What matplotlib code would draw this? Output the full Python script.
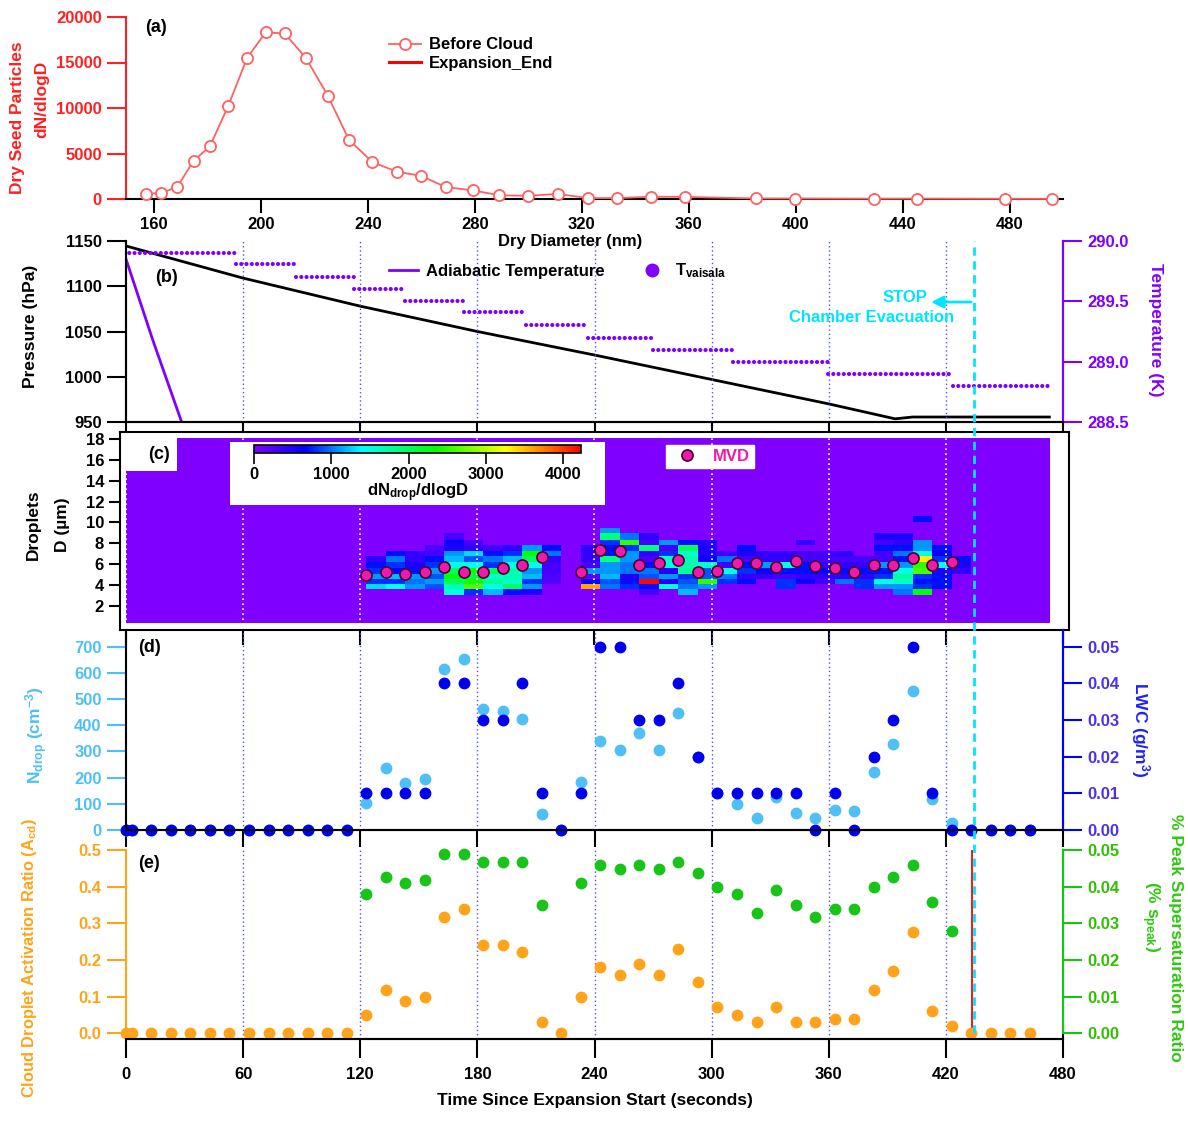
import numpy as np
import matplotlib
matplotlib.use('Agg')
import matplotlib.pyplot as plt
import matplotlib.transforms as mtransforms
from matplotlib.colors import LinearSegmentedColormap
from matplotlib.lines import Line2D
from matplotlib.patches import Rectangle
from matplotlib.ticker import FormatStrFormatter

plt.rcParams['font.family'] = ['Liberation Sans Narrow', 'Liberation Sans', 'DejaVu Sans']
plt.rcParams['font.weight'] = 'bold'
plt.rcParams['axes.labelweight'] = 'bold'
plt.rcParams['font.size'] = 12
plt.rcParams['mathtext.default'] = 'regular'
plt.rcParams['axes.linewidth'] = 1.5

# ---- (a) dry seed particle size distribution ----
diam = [156.9, 162.6, 168.6, 174.8, 180.9, 187.7, 194.8, 201.7, 208.8, 216.8,
        225.0, 232.9, 241.7, 250.8, 259.8, 269.2, 279.3, 289.2, 299.8, 311.0,
        322.4, 333.3, 346.0, 358.7, 385.2, 399.7, 429.4, 445.3, 478.4, 496.0]
before_cloud = [580, 650, 1300, 4200, 5800, 10200, 15500, 18300, 18200, 15500,
                11350, 6500, 4050, 3000, 2550, 1300, 950, 400, 360, 550,
                100, 100, 250, 230, 60, 50, 30, 40, 20, 10]
diam_exp = [322.4, 333.3, 346.0, 358.7, 385.2, 399.7, 429.4, 445.3, 478.4, 496.0]
expansion_end = [20, 20, 20, 20, 20, 20, 20, 20, 20, 20]

# ---- (b) pressure / temperature ----
press_t = [0, 60, 120, 180, 240, 300, 360, 394, 403, 473]
press = [1144.5, 1109, 1078, 1050, 1024, 997, 970, 953.5, 955.5, 955.5]
adiab_t = [0, 13.7, 28.5, 36]
adiab_T = [289.85, 289.18, 288.5, 288.17]
tv_start = [-1, 56.5, 87.3, 116.8, 142.9, 173.1, 205.1, 236.9, 269.8, 310.8, 359.4, 423.5]
tv_end = [56.5, 87.3, 116.8, 142.9, 173.1, 205.1, 236.9, 269.8, 310.8, 359.4, 424.3, 473.5]
tv_T = [289.90, 289.81, 289.705, 289.60, 289.50, 289.41, 289.30, 289.20, 289.10, 289.00, 288.90, 288.80]

# ---- (c) droplet size distribution ----
dsd_t = [123, 133, 143, 153, 163, 173, 183, 193, 203, 213, 223, 233, 243, 253, 263,
         273, 283, 293, 303, 313, 323, 333, 343, 353, 363, 373, 383, 393, 403, 413, 423, 433]
bin_edges = [3.1, 3.6, 4.1, 4.6, 5.1, 5.65, 6.2, 6.75, 7.25, 7.8, 8.35, 8.95, 9.5, 10.05, 10.6]
dsd = [
    [0, 1300, 800, 1100, 800, 700, 400, 0, 0, 0, 0, 0, 0, 0],
    [0, 1400, 800, 1200, 600, 800, 1000, 700, 0, 0, 0, 0, 0, 0],
    [0, 1100, 1000, 1100, 700, 500, 400, 400, 0, 0, 0, 0, 0, 0],
    [0, 900, 1100, 900, 1100, 800, 700, 300, 250, 0, 0, 0, 0, 0],
    [1500, 1700, 2000, 2300, 2000, 1500, 1200, 1100, 500, 600, 300, 0, 0, 0],
    [800, 2600, 2400, 2100, 2400, 1400, 900, 1300, 400, 300, 0, 0, 0, 0],
    [1200, 1500, 1800, 1600, 2000, 800, 1000, 700, 300, 0, 0, 0, 0, 0],
    [700, 2000, 1600, 1700, 1700, 1500, 1200, 800, 400, 0, 0, 0, 0, 0],
    [500, 1100, 800, 1200, 1100, 1500, 2000, 2300, 1100, 0, 0, 0, 0, 0],
    [0, 0, 250, 250, 300, 300, 400, 1000, 700, 0, 0, 0, 0, 0],
    [0, 0, 0, 0, 0, 0, 0, 0, 0, 0, 0, 0, 0, 0],
    [0, 3600, 600, 200, 1100, 300, 400, 400, 400, 0, 0, 0, 0, 0],
    [0, 1000, 900, 1200, 1100, 1100, 1900, 700, 700, 800, 1900, 1100, 0, 0],
    [0, 800, 700, 500, 1000, 1000, 1100, 1100, 800, 2500, 1000, 0, 0, 0],
    [300, 700, 4200, 900, 1000, 700, 300, 400, 1900, 300, 400, 0, 0, 0],
    [0, 1500, 500, 1100, 500, 1500, 1600, 800, 300, 1100, 0, 0, 0, 0],
    [1200, 1000, 900, 800, 1800, 1700, 1700, 1600, 2000, 700, 0, 0, 0, 0],
    [0, 1100, 2500, 900, 900, 1600, 600, 500, 500, 500, 0, 0, 0, 0],
    [0, 0, 800, 1000, 1500, 300, 1000, 300, 0, 0, 0, 0, 0, 0],
    [0, 0, 700, 400, 800, 700, 300, 500, 700, 0, 0, 0, 0, 0],
    [0, 0, 0, 400, 600, 1100, 400, 400, 0, 0, 0, 0, 0, 0],
    [0, 800, 800, 300, 700, 1500, 400, 400, 0, 0, 0, 0, 0, 0],
    [0, 0, 600, 400, 700, 700, 300, 300, 0, 400, 0, 0, 0, 0],
    [0, 0, 300, 400, 600, 400, 300, 300, 0, 0, 0, 0, 0, 0],
    [0, 0, 1000, 400, 700, 400, 300, 400, 0, 0, 0, 0, 0, 0],
    [0, 800, 800, 400, 700, 400, 300, 0, 0, 0, 0, 0, 0, 0],
    [0, 1100, 1500, 800, 700, 1100, 300, 300, 700, 300, 500, 0, 0, 0],
    [1000, 1100, 1600, 1800, 1500, 1100, 700, 1000, 700, 400, 500, 0, 0, 0],
    [2300, 800, 700, 800, 2600, 2500, 3300, 1500, 1100, 1100, 0, 0, 0, 700],
    [0, 700, 700, 700, 500, 1400, 800, 600, 700, 0, 0, 0, 0, 0],
    [0, 0, 0, 0, 400, 500, 700, 0, 0, 0, 0, 0, 0, 0],
]
bg_t = [0, 26, 473.4]
bg_d = [0.37, 14.9, 18.07]
bg = [[0, 0], [np.nan, 0]]
mvd_t = [123, 133, 143, 153, 163, 173, 183, 193, 203, 213, 233, 243, 253, 263, 273,
         283, 293, 303, 313, 323, 333, 343, 353, 363, 373, 383, 393, 403, 413, 423]
mvd = [4.97, 5.26, 5.1, 5.26, 5.7, 5.26, 5.26, 5.6, 5.96, 6.66, 5.26, 7.4, 7.27, 5.96, 6.09,
       6.44, 5.26, 5.39, 6.09, 6.09, 5.74, 6.35, 5.87, 5.6, 5.26, 5.96, 5.96, 6.57, 5.96, 6.22]

# ---- (d), (e) time series ----
times = [0, 3, 13, 23, 33, 43, 53, 63, 73, 83, 93, 103, 113, 123, 133, 143, 153, 163,
         173, 183, 193, 203, 213, 223, 233, 243, 253, 263, 273, 283, 293, 303, 313, 323,
         333, 343, 353, 363, 373, 383, 393, 403, 413, 423, 433, 443, 453, 463]
n_drop = [0] * 13 + [102, 237, 180, 195, 616, 654, 461, 456, 423, 61, 0, 185, 341, 306,
                     369, 306, 445, 280, 142, 99, 47, 127, 66, 47, 76, 71, 223, 328, 532,
                     117, 28, 0, 0, 0, 0]
lwc = [0] * 13 + [0.01, 0.01, 0.01, 0.01, 0.04, 0.04, 0.03, 0.03, 0.04, 0.01, 0.0, 0.01,
                  0.05, 0.05, 0.03, 0.03, 0.04, 0.02, 0.01, 0.01, 0.01, 0.01, 0.01, 0.0,
                  0.01, 0.0, 0.02, 0.03, 0.05, 0.01, 0.0, 0, 0, 0, 0]
act_ratio = [0] * 13 + [0.05, 0.118, 0.087, 0.098, 0.318, 0.339, 0.241, 0.241, 0.221, 0.03,
                        0.0, 0.098, 0.18, 0.159, 0.19, 0.159, 0.231, 0.139, 0.071, 0.051,
                        0.03, 0.071, 0.03, 0.03, 0.04, 0.04, 0.118, 0.169, 0.277, 0.061,
                        0.02, 0, 0, 0, 0]
nan = np.nan
s_peak = [nan] * 13 + [0.038, 0.0427, 0.0411, 0.0417, 0.0488, 0.0488, 0.0468, 0.0468, 0.0468,
                       0.0349, nan, 0.0411, 0.0458, 0.0448, 0.0458, 0.0448, 0.0468, 0.0437,
                       0.04, 0.038, 0.0329, 0.039, 0.0349, 0.0318, 0.0339, 0.0339, 0.04,
                       0.0427, 0.0458, 0.0359, 0.0278, nan, nan, nan, nan]
grid_t = [60, 120, 180, 240, 300, 360, 420]
stop_t = 434.4
expansion_end_t = 433.5

RED = '#ff2020'
SALMON = '#ff6060'
PURPLE = '#8000ff'
LBLUE = '#4ec0f6'
BLUE = '#0000ee'
ORANGE = '#ffa31a'
GREEN = '#18c418'
CYAN = '#00e5ff'
GRID = '#5050ff'
MAGENTA = '#f01aa8'

W, H = 1188, 1122
fig = plt.figure(figsize=(W / 100, H / 100), dpi=100)


def box(x0, y0, x1, y1):
    return [x0 / W, 1 - y1 / H, (x1 - x0) / W, (y1 - y0) / H]


def ftext(x, y, s, size=12.5, **kw):
    fig.text(x / W, 1 - y / H, s, ha='center', va='center', fontsize=size,
             fontweight='bold', **kw)


# ---------------- (a) ----------------
ax_a = fig.add_axes(box(126, 17, 1063, 199))
ax_a.plot(diam_exp, expansion_end, color='red', lw=2.2, label='Expansion_End', zorder=2)
ax_a.plot(diam, before_cloud, '-o', color=SALMON, mfc='white', mec=SALMON, ms=8, mew=1.3,
          lw=1.3, label='Before Cloud', zorder=3, clip_on=False)
ax_a.set_xlim(149.5, 500)
ax_a.set_ylim(0, 20000)
ax_a.set_xticks(range(160, 481, 40))
ax_a.set_yticks(range(0, 20001, 5000))
for s in ['top', 'right']:
    ax_a.spines[s].set_visible(False)
ax_a.spines['left'].set_color(RED)
ax_a.tick_params(axis='y', colors=RED, length=14, width=1.5)
ax_a.tick_params(axis='x', length=10, width=1.5, pad=3)
ax_a.set_xlabel('Dry Diameter (nm)', labelpad=1)
ax_a.xaxis.set_label_coords(0.474, -0.19)
h, l = ax_a.get_legend_handles_labels()
ax_a.legend(h[::-1], l[::-1], loc='upper left', bbox_to_anchor=(0.265, 0.97), frameon=False,
            handlelength=1.9, handletextpad=0.5, labelspacing=0.2, fontsize=12)
ax_a.text(0.02, 0.94, '(a)', transform=ax_a.transAxes, fontsize=13, fontweight='bold', va='center')
ftext(18, 118, 'Dry Seed Particles', rotation=90, color=RED)
ftext(42, 99, 'dN/dlogD', rotation=90, color=RED)

# ---------------- (b) ----------------
ax_b = fig.add_axes(box(126, 241, 1063, 422))
ax_b.set_facecolor('none')
ax_b.plot(press_t, press, color='black', lw=2)
for t in grid_t:
    ax_b.axvline(t, color=GRID, ls=(0, (1, 2)), lw=1)
ax_b.set_xlim(0, 480)
ax_b.set_ylim(950, 1150)
ax_b.set_xticks(range(0, 481, 60))
ax_b.set_yticks(range(950, 1151, 50))
ax_b.tick_params(axis='x', labelbottom=False, length=7, width=1.5)
ax_b.tick_params(axis='y', length=14, width=1.5)
ax_b.spines['top'].set_visible(False)
ax_bt = ax_b.twinx()
ax_bt.set_facecolor('none')
ax_bt.plot(adiab_t, adiab_T, color=PURPLE, lw=2)
tv = ax_bt.hlines(tv_T, tv_start, tv_end, colors=PURPLE, lw=3.0, linestyles=(0, (0.01, 1.25)))
tv.set_capstyle('round')
ax_bt.set_ylim(288.5, 290.0)
ax_bt.set_yticks([288.5, 289.0, 289.5, 290.0])
ax_bt.yaxis.set_major_formatter(FormatStrFormatter('%.1f'))
ax_bt.tick_params(axis='y', colors=PURPLE, length=14, width=1.5)
ax_bt.spines['right'].set_color(PURPLE)
ax_bt.spines['top'].set_visible(False)
leg_h = [Line2D([], [], color=PURPLE, lw=2),
         Line2D([], [], ls='none', marker='o', color=PURPLE, ms=9)]
ax_bt.legend(leg_h, ['Adiabatic Temperature', 'T$_{vaisala}$'], ncol=2, loc='center left',
             bbox_to_anchor=(0.265, 0.834), frameon=False, columnspacing=2.0,
             handlelength=1.7, handletextpad=0.5, fontsize=12)
ax_bt.annotate('', xy=(411, 289.494), xytext=(stop_t, 289.494),
               arrowprops=dict(arrowstyle='-|>', color=CYAN, lw=2, mutation_scale=18))
ax_bt.text(399, 289.528, 'STOP', color=CYAN, ha='center', va='center', fontsize=12)
ax_bt.text(381.7, 289.37, 'Chamber Evacuation', color=CYAN, ha='center', va='center', fontsize=12)
ax_b.text(0.031, 0.80, '(b)', transform=ax_b.transAxes, fontsize=13, fontweight='bold', va='center')
ftext(30, 326, 'Pressure (hPa)', rotation=90)
ftext(1155, 330, 'Temperature (K)', rotation=270, color=PURPLE)

# ---------------- (c) ----------------
cmap = LinearSegmentedColormap.from_list(
    'igor_rainbow', [(0, '#8000ff'), (0.155, '#0000ff'), (0.33, '#00ffff'),
                     (0.555, '#00ff00'), (0.77, '#ffff00'), (1.0, '#ff0000')])
ax_c = fig.add_axes(box(120, 432, 1069, 630))
ax_c.pcolormesh(bg_t, bg_d, np.ma.masked_invalid(bg), cmap=cmap, vmin=0, vmax=4230)
mesh = ax_c.pcolormesh(dsd_t, bin_edges, np.array(dsd).T, cmap=cmap, vmin=0, vmax=4230)
for t in [0] + grid_t:
    ax_c.axvline(t, color='white', ls=(0, (1, 2)), lw=1.2)
ax_c.plot(mvd_t, mvd, 'o', mfc=MAGENTA, mec='#4a0030', ms=8, mew=1.2, label='MVD', zorder=5)
ax_c.set_xlim(-3.07, 483.1)
ax_c.set_ylim(-0.30, 18.67)
ax_c.set_yticks(range(2, 19, 2))
ax_c.set_xticks(range(0, 481, 60))
ax_c.tick_params(axis='x', labelbottom=False, length=11, width=1.5)
ax_c.tick_params(axis='y', length=8, width=1.5)
ax_c.add_patch(Rectangle((0.1159, 0.631), 0.395, 0.318, transform=ax_c.transAxes,
                         facecolor='white', edgecolor='none', zorder=6))
ax_c.legend(loc='upper left', bbox_to_anchor=(0.575, 0.935), frameon=True, fancybox=False,
            edgecolor='white', framealpha=1, borderpad=0.25, handletextpad=0.6,
            fontsize=12, labelcolor=MAGENTA, borderaxespad=0)
ax_c.text(0.030, 0.885, '(c)', transform=ax_c.transAxes, fontsize=13, fontweight='bold',
          va='center', zorder=7)
cax = fig.add_axes(box(254, 445, 581, 453))
cb = fig.colorbar(mesh, cax=cax, orientation='horizontal', ticks=[0, 1000, 2000, 3000, 4000])
cb.outline.set_linewidth(1.2)
cax.tick_params(length=8, width=1.2, labelsize=12, pad=2)
cb.set_label('dN$_{drop}$/dlogD', fontsize=12, fontweight='bold', labelpad=0)
ftext(33, 525, 'Droplets', rotation=90)
ftext(62, 525, 'D (\u00b5m)', rotation=90)

# ---------------- (d) ----------------
ax_d = fig.add_axes(box(126, 630, 1063, 830))
ax_d.set_facecolor('none')
for t in grid_t:
    ax_d.axvline(t, color=GRID, ls=(0, (1, 2)), lw=1)
ax_d.plot(times, n_drop, 'o', color=LBLUE, ms=7.5, clip_on=False)
ax_d.set_xlim(0, 480)
ax_d.set_ylim(0, 763.8)
ax_d.set_xticks(range(0, 481, 60))
ax_d.set_yticks(range(0, 701, 100))
ax_d.tick_params(axis='x', labelbottom=False, length=12, width=1.5)
ax_d.tick_params(axis='y', colors=LBLUE, length=14, width=1.5)
ax_d.spines['left'].set_color(LBLUE)
ax_d.spines['top'].set_visible(False)
ax_dt = ax_d.twinx()
ax_dt.plot(times, lwc, 'o', color=BLUE, ms=7.5, clip_on=False)
ax_dt.set_ylim(0, 0.05 * 763.8 / 700)
ax_dt.set_yticks([0, 0.01, 0.02, 0.03, 0.04, 0.05])
ax_dt.yaxis.set_major_formatter(FormatStrFormatter('%.2f'))
ax_dt.tick_params(axis='y', colors='#0000ff', labelcolor='#4a30f0', length=14, width=1.5)
ax_dt.spines['right'].set_color('#0000ff')
ax_dt.spines['top'].set_visible(False)
ax_d.text(0.013, 0.915, '(d)', transform=ax_d.transAxes, fontsize=13, fontweight='bold', va='center')
ftext(37, 735, 'N$_{drop}$ (cm$^{-3}$)', rotation=90, color=LBLUE)
ftext(1140, 730, 'LWC (g/m$^{3}$)', rotation=270, color='#2020ff')

# ---------------- (e) ----------------
ax_e = fig.add_axes(box(126, 850, 1063, 1039))
ax_e.set_facecolor('none')
for t in grid_t:
    ax_e.axvline(t, color=GRID, ls=(0, (1, 2)), lw=1)
ax_e.plot([expansion_end_t, expansion_end_t], [0, 0.5], color='red', lw=1.3)
ax_e.plot(times, act_ratio, 'o', color=ORANGE, ms=7.5, clip_on=False, zorder=4)
ax_e.set_xlim(0, 480)
ax_e.set_ylim(-0.0155, 0.5)
ax_e.set_xticks(range(0, 481, 60))
ax_e.set_yticks([0, 0.1, 0.2, 0.3, 0.4, 0.5])
ax_e.yaxis.set_major_formatter(FormatStrFormatter('%.1f'))
ax_e.tick_params(axis='x', length=14, width=1.5, pad=6, labelsize=12)
ax_e.tick_params(axis='y', colors=ORANGE, length=14, width=1.5)
ax_e.spines['left'].set_color(ORANGE)
ax_e.spines['left'].set_bounds(0, 0.5)
ax_e.spines['top'].set_visible(False)
ax_e.set_xlabel('Time Since Expansion Start (seconds)', labelpad=8, fontsize=12.5)
ax_et = ax_e.twinx()
ax_et.plot(times, s_peak, 'o', color=GREEN, ms=7.5, clip_on=False)
ax_et.set_ylim(-0.00155, 0.05)
ax_et.set_yticks([0, 0.01, 0.02, 0.03, 0.04, 0.05])
ax_et.yaxis.set_major_formatter(FormatStrFormatter('%.2f'))
ax_et.tick_params(axis='y', colors=GREEN, labelcolor='#30c000', length=14, width=1.5)
ax_et.spines['right'].set_color(GREEN)
ax_et.spines['right'].set_bounds(0, 0.05)
ax_et.spines['left'].set_visible(False)
ax_et.spines['top'].set_visible(False)
ax_e.text(0.013, 0.93, '(e)', transform=ax_e.transAxes, fontsize=13, fontweight='bold', va='center')
ftext(30, 958, 'Cloud Droplet Activation Ratio (A$_{cd}$)', size=11.8, rotation=90, color=ORANGE)
ftext(1175, 938, '% Peak Supersaturation Ratio', rotation=270, color='#30c810')
ftext(1150, 917, '(% s$_{peak}$)', rotation=270, color='#30c810')

# cyan dashed line marking the stop of the chamber evacuation, across panels b-e
trans = mtransforms.blended_transform_factory(ax_e.transData, fig.transFigure)
fig.add_artist(Line2D([stop_t, stop_t], [1 - 1033 / H, 1 - 241 / H], transform=trans,
                      color=CYAN, lw=2, ls=(0, (3, 2)), zorder=10))

fig.savefig('out.png', dpi=100)
